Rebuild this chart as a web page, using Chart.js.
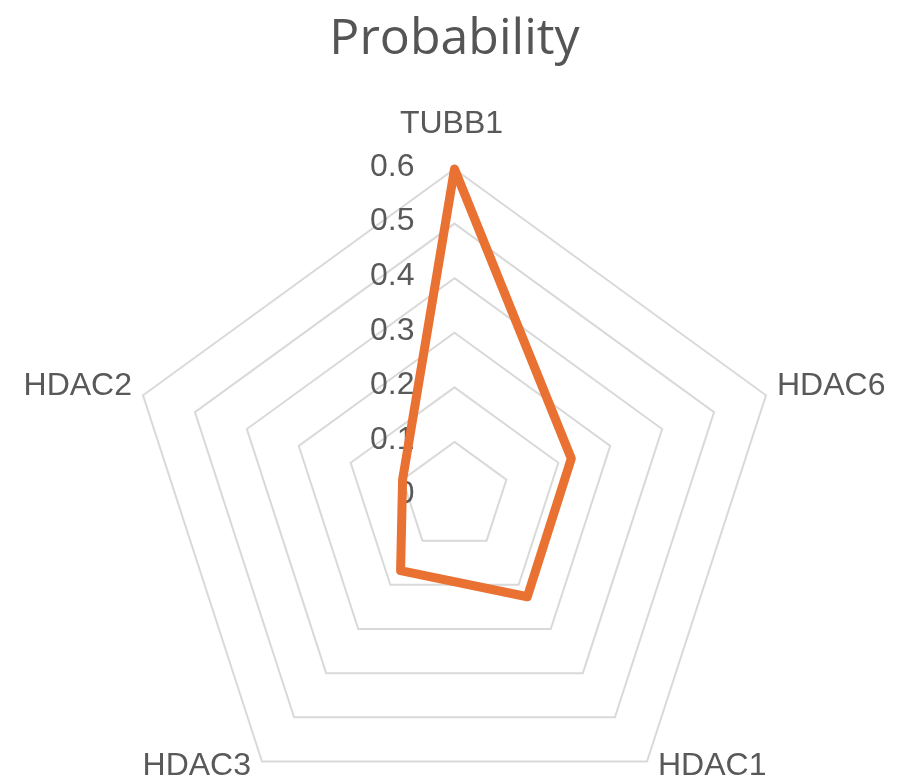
<!DOCTYPE html>
<html>
<head>
<meta charset="utf-8">
<title>Probability</title>
<script src="https://cdn.jsdelivr.net/npm/chart.js@4.4.1/dist/chart.umd.min.js"></script>
<style>
  body { margin: 0; background: #ffffff; }
  #wrap { width: 899px; height: 784px; }
</style>
</head>
<body>
<div id="wrap"><canvas id="radarChart" width="899" height="784"></canvas></div>
<script>
const categories = ["TUBB1", "HDAC6", "HDAC1", "HDAC3", "HDAC2"];
const probability = [0.6, 0.225, 0.227, 0.168, 0.1];
const tickLabels = ["0", "0.1", "0.2", "0.3", "0.4", "0.5", "0.6"];

const textColor = "#595959";
const labelFont = '32px "Liberation Sans", Arial, sans-serif';

// tick labels sit left of the vertical axis, point labels beside the outer corners
const radarText = {
  id: "radarText",
  beforeDatasetsDraw(chart) {
    const s = chart.scales.r;
    const ctx = chart.ctx;
    ctx.save();
    ctx.fillStyle = textColor;
    ctx.font = labelFont;
    ctx.textAlign = "right";
    ctx.textBaseline = "middle";
    s.ticks.forEach((t) => {
      const d = s.getDistanceFromCenterForValue(t.value);
      ctx.fillText(t.label, s.xCenter - 40, s.yCenter - d - 2);
    });

    const R = s.drawingArea;
    categories.forEach((name, i) => {
      const p = s.getPointPosition(i, R);
      const dx = p.x - s.xCenter;
      if (Math.abs(dx) < 1) {
        ctx.textAlign = "center";
        ctx.textBaseline = "alphabetic";
        ctx.fillText(name, p.x - 3, p.y - 36);
        return;
      }
      ctx.textAlign = dx > 0 ? "left" : "right";
      ctx.textBaseline = "middle";
      const x = dx > 0 ? p.x + 11 : p.x - 11;
      const y = p.y < s.yCenter ? p.y - 9 : p.y + 5;
      ctx.fillText(name, x, y);
    });
    ctx.restore();
  }
};

new Chart(document.getElementById("radarChart"), {
  type: "radar",
  data: {
    labels: categories,
    datasets: [
      {
        label: "Probability",
        data: probability,
        borderColor: "#E97132",
        borderWidth: 9,
        borderJoinStyle: "round",
        fill: false,
        pointRadius: 0,
        pointHoverRadius: 0,
        tension: 0
      }
    ]
  },
  options: {
    responsive: false,
    animation: false,
    layout: {
      padding: { top: 0, left: 127, right: 117, bottom: 0 }
    },
    plugins: {
      legend: { display: false },
      tooltip: { enabled: false },
      title: {
        display: true,
        text: "Probability",
        color: "#555555",
        font: { family: '"Open Sans", sans-serif', size: 50, weight: "normal" },
        padding: { top: 10, bottom: 99 }
      }
    },
    scales: {
      r: {
        min: 0,
        max: 0.6,
        // the bottom labels sit level with the lower corners, so the web
        // reaches past the plot area: size it from the width alone
        afterFit: (scale) => {
          scale.drawingArea = scale.width / 2;
          scale.xCenter = scale.left + scale.width / 2;
          scale.yCenter = scale.top + scale.drawingArea;
        },
        angleLines: { display: false },
        grid: { color: "#d9d9d9", lineWidth: 2 },
        pointLabels: { display: false },
        ticks: {
          display: false,
          stepSize: 0.1,
          callback: (v, i) => tickLabels[i]
        }
      }
    }
  },
  plugins: [radarText]
});
</script>
</body>
</html>
